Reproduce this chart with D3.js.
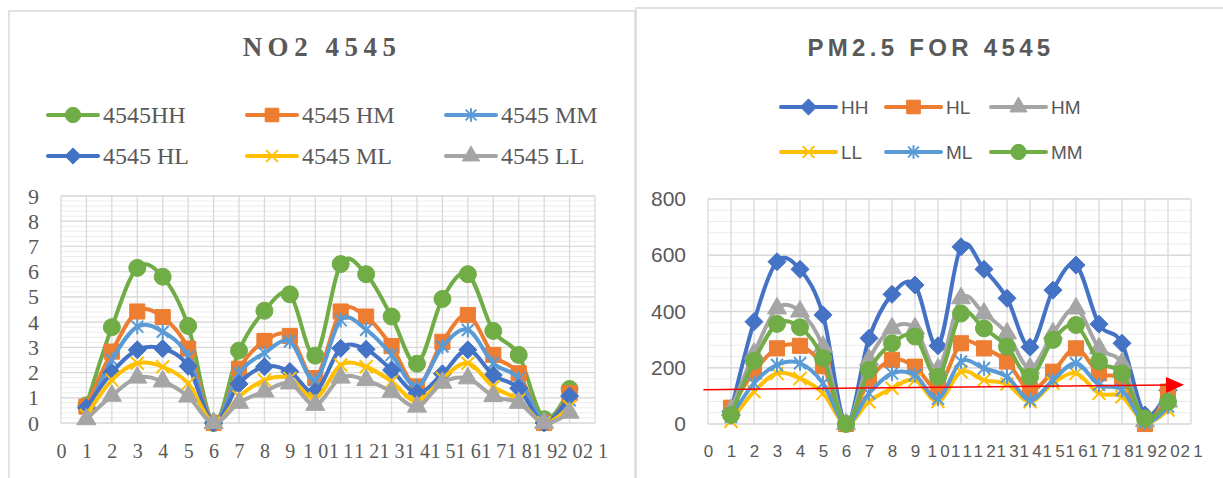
<!DOCTYPE html>
<html>
<head>
<meta charset="utf-8">
<script src="https://cdn.jsdelivr.net/npm/d3@7"></script>
<style>
  body { margin: 0; background: #fff; }
</style>
</head>
<body>
<svg id="chart" width="1223" height="478"></svg>
<script>
// sample index along the x axis (0..21), points sit at 1..20
const xTicks = d3.range(0, 22);
const samples = d3.range(1, 21);

// ---- NO2 4545 (left chart) ----
const no2Names = ["4545HH", "4545 HM", "4545 MM", "4545 HL", "4545 ML", "4545 LL"];
const no2HH = [0.7, 3.8, 6.15, 5.8, 3.85, 0, 2.87, 4.45, 5.1, 2.67, 6.3, 5.9, 4.22, 2.35, 4.92, 5.9, 3.65, 2.7, 0.15, 1.35];
const no2HM = [0.65, 2.83, 4.42, 4.2, 2.95, 0, 2.15, 3.25, 3.45, 1.78, 4.42, 4.22, 3.05, 1.45, 3.22, 4.28, 2.7, 1.97, 0, 1.18];
const no2MM = [0.35, 2.5, 3.82, 3.62, 2.63, 0, 1.97, 2.77, 3.23, 1.7, 4.08, 3.7, 2.7, 1.44, 3.03, 3.69, 2.37, 1.77, 0.05, 0.9];
const no2HL = [0.6, 2.0, 2.9, 2.95, 2.25, 0, 1.55, 2.23, 2.04, 1.24, 2.96, 2.92, 2.1, 1.18, 1.95, 2.9, 1.9, 1.38, 0, 1.07];
const no2ML = [0.3, 1.7, 2.37, 2.23, 1.57, 0, 1.04, 1.7, 1.77, 0.98, 2.3, 2.23, 1.64, 0.85, 1.77, 2.37, 1.44, 0.91, 0, 0.65];
const no2LL = [0.15, 1.08, 1.8, 1.65, 1.05, 0, 0.8, 1.25, 1.57, 0.72, 1.8, 1.7, 1.24, 0.65, 1.6, 1.77, 1.07, 0.8, 0, 0.41];
const no2YTicks = d3.range(0, 10);

// ---- PM2.5 FOR 4545 (right chart) ----
const pmNames = ["HH", "HL", "HM", "LL", "ML", "MM"];
const pmHH = [45, 364, 577, 550, 388, 0, 305, 461, 494, 278, 630, 550, 447, 273, 476, 565, 355, 287, 32, 120];
const pmHL = [58, 186, 269, 278, 205, 0, 156, 228, 204, 130, 287, 269, 222, 121, 186, 269, 180, 156, 0, 115];
const pmHM = [50, 250, 411, 400, 275, 0, 228, 340, 340, 195, 447, 393, 322, 198, 322, 411, 269, 216, 10, 80];
const pmLL = [10, 115, 180, 162, 109, 0, 79, 127, 156, 80, 186, 156, 142, 79, 145, 180, 109, 97, 5, 50];
const pmML = [25, 145, 210, 216, 145, 0, 109, 180, 174, 90, 222, 198, 168, 85, 156, 216, 139, 121, 5, 62];
const pmMM = [32, 224, 356, 344, 234, 0, 192, 287, 311, 168, 393, 340, 275, 168, 299, 352, 222, 180, 20, 79];
const pmYTicks = [0, 200, 400, 600, 800];

// red arrow drawn on the PM2.5 chart, in data units
const arrowStart = [-0.2, 122];
const arrowEnd = [20.0, 139];

const grey = "#595959";
const colors = {
  blue: "#4472C4", orange: "#ED7D31", gray: "#A5A5A5",
  yellow: "#FFC000", lightBlue: "#5B9BD5", green: "#70AD47"
};

const svg = d3.select("#chart");

// marker shapes, roughly like the excel ones
function markerPath(kind, r) {
  if (kind === "circle") return d3.symbol(d3.symbolCircle, Math.PI * r * r)();
  if (kind === "square") return d3.symbol(d3.symbolSquare, 4 * r * r * 0.85)();
  if (kind === "triangle") return d3.symbol(d3.symbolTriangle, 1.5 * r * r * 1.3)();
  if (kind === "diamond") return `M0,${-r}L${r},0L0,${r}L${-r},0Z`;
  if (kind === "x") return `M${-r},${-r}L${r},${r}M${-r},${r}L${r},${-r}`;
  // star
  const d = r * 0.8;
  return `M${-d},${-d}L${d},${d}M${-d},${d}L${d},${-d}M0,${-r}L0,${r}`;
}
const strokeOnly = (kind) => kind === "x" || kind === "star";

function drawMarker(g, kind, color, r) {
  g.append("path")
    .attr("d", markerPath(kind, r))
    .attr("fill", strokeOnly(kind) ? "none" : color)
    .attr("stroke", color)
    .attr("stroke-width", strokeOnly(kind) ? 2 : 1);
}

function drawChart(cfg) {
  // panel frame
  svg.append("rect")
    .attr("x", cfg.frame[0]).attr("y", cfg.frame[1])
    .attr("width", cfg.frame[2]).attr("height", 520)
    .attr("fill", "#fff").attr("stroke", "#d9d9d9").attr("stroke-width", 1.5);

  const x = d3.scaleLinear().domain([0, 21]).range([cfg.left, cfg.right]);
  const y = d3.scaleLinear().domain([0, cfg.yMax]).range([cfg.bottom, cfg.top]);

  // title
  svg.append("text")
    .attr("x", cfg.titleX).attr("y", 47)
    .attr("text-anchor", "middle").attr("dominant-baseline", "central")
    .style("font-family", cfg.titleFont).style("font-weight", "bold")
    .style("font-size", cfg.titleSize + "px").style("letter-spacing", cfg.titleSpacing + "px")
    .attr("fill", grey)
    .text(cfg.title);

  // gridlines
  const grid = svg.append("g");
  grid.selectAll(".minor")
    .data(d3.range(0, cfg.yMax + 1e-9, cfg.minor))
    .join("line")
    .attr("x1", cfg.left).attr("x2", cfg.right)
    .attr("y1", (d) => y(d)).attr("y2", (d) => y(d))
    .attr("stroke", "#ebebeb").attr("stroke-width", 1);
  grid.selectAll(".vert")
    .data(xTicks)
    .join("line")
    .attr("x1", (d) => x(d)).attr("x2", (d) => x(d))
    .attr("y1", cfg.top).attr("y2", cfg.bottom)
    .attr("stroke", "#d9d9d9").attr("stroke-width", 1.3);
  grid.selectAll(".major")
    .data(cfg.yTicks)
    .join("line")
    .attr("x1", cfg.left).attr("x2", cfg.right)
    .attr("y1", (d) => y(d)).attr("y2", (d) => y(d))
    .attr("stroke", "#d9d9d9").attr("stroke-width", 1.3);

  // axes
  const xAxis = svg.append("g")
    .attr("transform", "translate(0," + cfg.bottom + ")")
    .call(d3.axisBottom(x).tickValues(xTicks).tickSize(0).tickPadding(cfg.xPad).tickFormat(d3.format("d")));
  xAxis.select(".domain").remove();
  xAxis.selectAll("text")
    .style("font-family", cfg.tickFont).style("font-size", cfg.xTickSize + "px")
    .attr("fill", grey);
  // two-digit labels: the digits sit apart, like in the excel export
  xAxis.selectAll("text")
    .filter((d) => d >= 10)
    .text(null)
    .each(function (d) {
      const t = d3.select(this), s = String(d);
      t.append("tspan").text(s[0]);
      t.append("tspan").attr("dx", cfg.xGap).text(s.slice(1));
    });

  const yAxis = svg.append("g")
    .attr("transform", "translate(" + cfg.left + ",0)")
    .call(d3.axisLeft(y).tickValues(cfg.yTicks).tickSize(0).tickPadding(cfg.yPad).tickFormat(d3.format("d")));
  yAxis.select(".domain").remove();
  yAxis.selectAll("text")
    .style("font-family", cfg.tickFont).style("font-size", cfg.yTickSize + "px")
    .attr("fill", grey);

  // series
  const line = d3.line()
    .x((d, i) => x(samples[i]))
    .y((d) => y(d))
    .curve(d3.curveCardinal.tension(0));

  cfg.series.forEach((s) => {
    const g = svg.append("g");
    g.append("path")
      .attr("d", line(s.values))
      .attr("fill", "none")
      .attr("stroke", s.color)
      .attr("stroke-width", 4)
      .attr("stroke-linejoin", "round")
      .attr("stroke-linecap", "round");
    g.selectAll("g")
      .data(s.values)
      .join("g")
      .attr("transform", (d, i) => "translate(" + x(samples[i]) + "," + y(d) + ")")
      .each(function () { drawMarker(d3.select(this), s.marker, s.color, s.r); });
  });

  // legend
  cfg.series.forEach((s, i) => {
    const col = i % 3, row = Math.floor(i / 3);
    const lx = cfg.legendX[col], ly = cfg.legendY[row];
    const g = svg.append("g").attr("transform", "translate(" + lx + "," + ly + ")");
    g.append("line")
      .attr("x1", 0).attr("x2", cfg.legendLine)
      .attr("stroke", s.color).attr("stroke-width", 4).attr("stroke-linecap", "round");
    const m = g.append("g").attr("transform", "translate(" + cfg.legendLine / 2 + ",0)");
    drawMarker(m, s.marker, s.color, s.r * 0.9);
    g.append("text")
      .attr("x", cfg.legendLine + 5).attr("dy", "0.35em")
      .style("font-family", cfg.legendFont).style("font-size", cfg.legendSize + "px")
      .attr("fill", grey)
      .text(s.name);
  });

  return { x, y };
}

// left chart: NO2
drawChart({
  frame: [9, 11, 626],
  left: 61, right: 595, top: 196, bottom: 423,
  yMax: 9, yTicks: no2YTicks, minor: 0.2,
  title: "NO2 4545", titleX: 322, titleFont: "Liberation Serif", titleSize: 27, titleSpacing: 5.5,
  tickFont: "Liberation Serif", xTickSize: 20, yTickSize: 22, xGap: 5, xPad: 21, yPad: 22,
  legendFont: "Liberation Serif", legendSize: 24,
  legendX: [48, 247, 446], legendY: [115, 156], legendLine: 50,
  series: [
    { name: no2Names[0], values: no2HH, color: colors.green, marker: "circle", r: 8.5 },
    { name: no2Names[1], values: no2HM, color: colors.orange, marker: "square", r: 8.2 },
    { name: no2Names[2], values: no2MM, color: colors.lightBlue, marker: "star", r: 7.5 },
    { name: no2Names[3], values: no2HL, color: colors.blue, marker: "diamond", r: 9 },
    { name: no2Names[4], values: no2ML, color: colors.yellow, marker: "x", r: 6.5 },
    { name: no2Names[5], values: no2LL, color: colors.gray, marker: "triangle", r: 9 }
  ]
});

// right chart: PM2.5
const pm = drawChart({
  frame: [636, 8, 620],
  left: 708, right: 1191, top: 199, bottom: 424,
  yMax: 800, yTicks: pmYTicks, minor: 40,
  title: "PM2.5 FOR 4545", titleX: 931, titleFont: "Liberation Sans", titleSize: 24, titleSpacing: 4.3,
  tickFont: "Liberation Sans", xTickSize: 17, yTickSize: 21, xGap: 3.3, xPad: 21, yPad: 22,
  legendFont: "Liberation Sans", legendSize: 19,
  legendX: [781, 886, 991], legendY: [107, 152], legendLine: 55,
  series: [
    { name: pmNames[0], values: pmHH, color: colors.blue, marker: "diamond", r: 9 },
    { name: pmNames[1], values: pmHL, color: colors.orange, marker: "square", r: 8.2 },
    { name: pmNames[2], values: pmHM, color: colors.gray, marker: "triangle", r: 9 },
    { name: pmNames[3], values: pmLL, color: colors.yellow, marker: "x", r: 6.5 },
    { name: pmNames[4], values: pmML, color: colors.lightBlue, marker: "star", r: 7.5 },
    { name: pmNames[5], values: pmMM, color: colors.green, marker: "circle", r: 8.5 }
  ]
});

// red arrow annotation
svg.append("defs").append("marker")
  .attr("id", "arrowhead")
  .attr("markerUnits", "userSpaceOnUse")
  .attr("markerWidth", 18).attr("markerHeight", 16)
  .attr("refX", 2).attr("refY", 8)
  .attr("orient", "auto")
  .append("path")
  .attr("d", "M0,0L18,8L0,16Z")
  .attr("fill", "#ff0000");

svg.append("line")
  .attr("x1", pm.x(arrowStart[0])).attr("y1", pm.y(arrowStart[1]))
  .attr("x2", pm.x(arrowEnd[0])).attr("y2", pm.y(arrowEnd[1]))
  .attr("stroke", "#ff0000").attr("stroke-width", 1.5)
  .attr("marker-end", "url(#arrowhead)");
</script>
</body>
</html>
